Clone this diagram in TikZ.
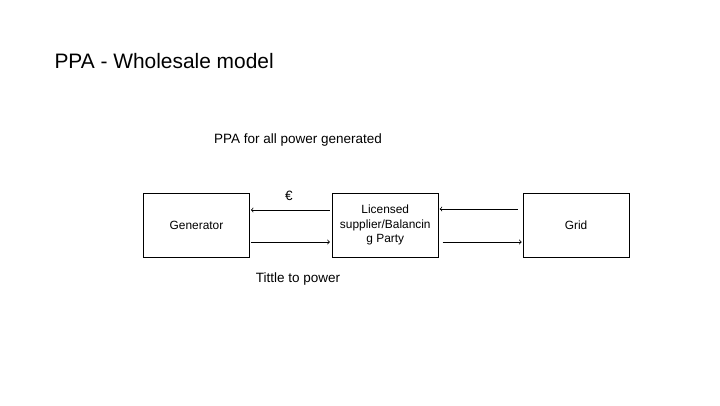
\documentclass[tikz,border=0pt]{standalone}
\usepackage{fontspec}
\setmainfont{Liberation Sans}
\usetikzlibrary{positioning, calc}

\begin{document}
\begin{tikzpicture}[
    x=1pt, y=1pt,
    party/.style={
        draw,
        thick,
        minimum width=106pt,
        minimum height=64pt,
        align=center,
        font=\fontsize{11.9}{14.5}\selectfont,
    },
    arrow/.style={
        ->,
        thick,
    },
    label/.style={
        font=\fontsize{13.5}{16}\selectfont,
    },
]

    \useasboundingbox (0,0) rectangle (720,-405);

    \node[anchor=west, font=\fontsize{20.9}{25}\selectfont] (title) at (51,-61) {PPA - Wholesale model};

    \node[party] (generator) at (196.5,-225) {Generator};
    \node[party, right=82pt of generator] (supplier) {Licensed\\supplier/Balancin\\g Party};
    \node[party, right=84pt of supplier] (grid) {Grid};

    \draw[arrow, shorten <=2pt, shorten >=1pt] ([yshift=15pt]supplier.west) -- ([yshift=15pt]generator.east);
    \draw[arrow, shorten <=1pt, shorten >=2pt] ([yshift=-17pt]generator.east) -- ([yshift=-17pt]supplier.west);
    \draw[arrow, shorten <=5pt, shorten >=1pt] ([yshift=16pt]grid.west) -- ([yshift=16pt]supplier.east);
    \draw[arrow, shorten <=4pt, shorten >=1pt] ([yshift=-17pt]supplier.east) -- ([yshift=-17pt]grid.west);

    \node[label] (euro) at (289,-196) {€};
    \node[label] (ppa) at (298,-140) {PPA for all power generated};
    \node[label] (title2power) at (298,-279) {Tittle to power};

\end{tikzpicture}
\end{document}
